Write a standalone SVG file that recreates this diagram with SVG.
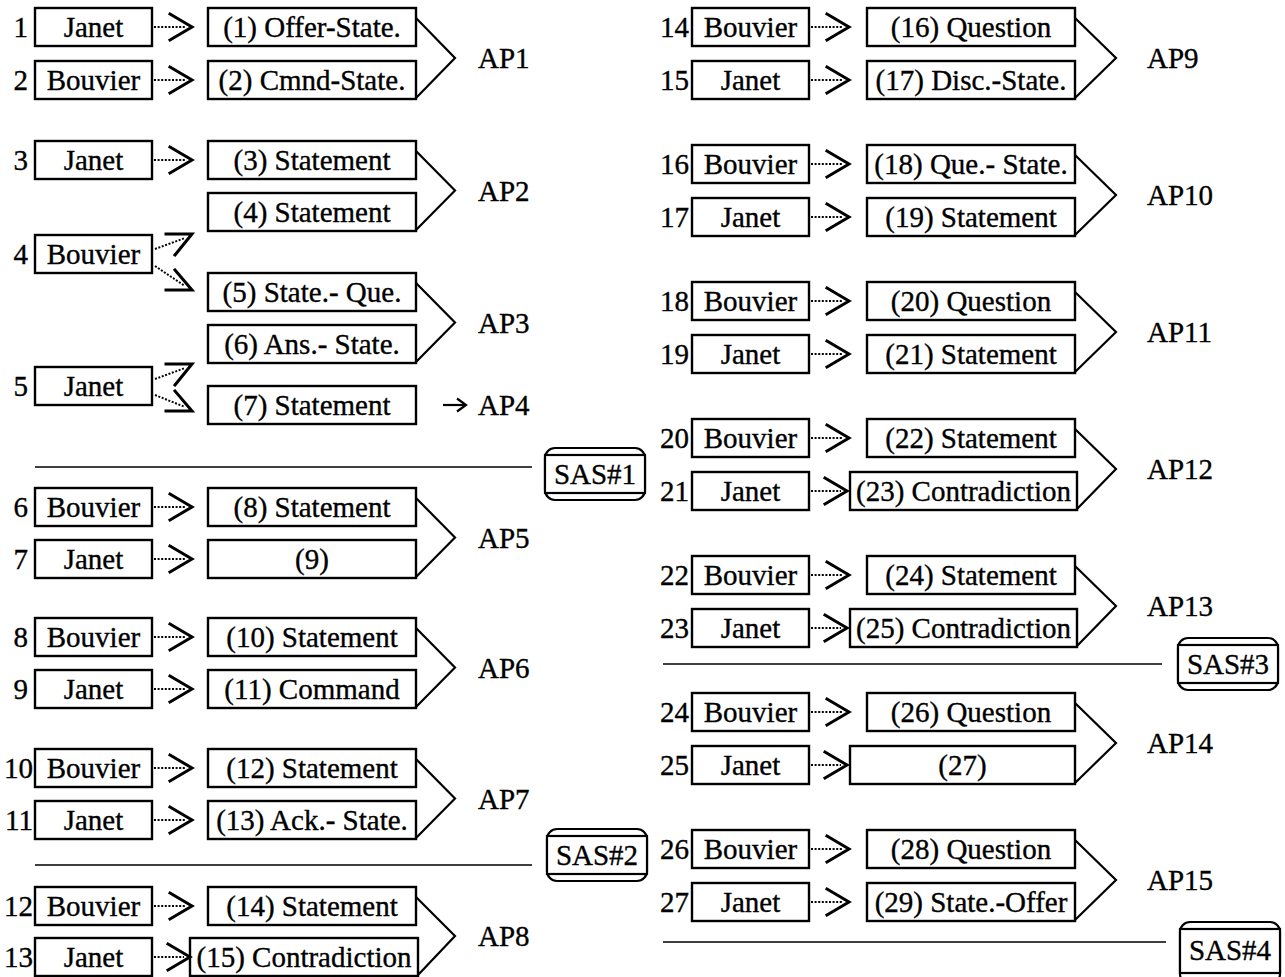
<svg xmlns="http://www.w3.org/2000/svg" width="1285" height="977" viewBox="0 0 1285 977">
<style>
.b{fill:#fff;stroke:#000;stroke-width:2.4}
.t{font-family:"Liberation Serif","Times New Roman",serif;font-size:29px;fill:#000;stroke:#000;stroke-width:0.35}
.m{text-anchor:middle}
.e{text-anchor:end}
.d{stroke:#000;stroke-width:2;stroke-dasharray:2 1.6;fill:none}
.h{stroke:#000;stroke-width:3;fill:none;stroke-linejoin:miter;stroke-linecap:square}
.br{stroke:#000;stroke-width:2.2;fill:none}
.sep{stroke:#000;stroke-width:1.6}
.sas{fill:#fff;stroke:#000;stroke-width:2.2}
</style>
<rect width="1285" height="977" fill="#fff"/>

<!-- LEFT COLUMN speakers -->
<g id="u1"><text class="t e" x="28" y="37">1</text><rect class="b" x="35" y="8" width="117" height="38"/><text class="t m" x="93.5" y="37">Janet</text></g>
<g id="u2"><text class="t e" x="28" y="90">2</text><rect class="b" x="35" y="61" width="117" height="38"/><text class="t m" x="93.5" y="90">Bouvier</text></g>
<g id="u3"><text class="t e" x="28" y="170">3</text><rect class="b" x="35" y="141" width="117" height="38"/><text class="t m" x="93.5" y="170">Janet</text></g>
<g id="u4"><text class="t e" x="28" y="264">4</text><rect class="b" x="35" y="235" width="117" height="38"/><text class="t m" x="93.5" y="264">Bouvier</text></g>
<g id="u5"><text class="t e" x="28" y="396">5</text><rect class="b" x="35" y="367" width="117" height="38"/><text class="t m" x="93.5" y="396">Janet</text></g>
<g id="u6"><text class="t e" x="28" y="517">6</text><rect class="b" x="35" y="488" width="117" height="38"/><text class="t m" x="93.5" y="517">Bouvier</text></g>
<g id="u7"><text class="t e" x="28" y="569">7</text><rect class="b" x="35" y="540" width="117" height="38"/><text class="t m" x="93.5" y="569">Janet</text></g>
<g id="u8"><text class="t e" x="28" y="647">8</text><rect class="b" x="35" y="618" width="117" height="38"/><text class="t m" x="93.5" y="647">Bouvier</text></g>
<g id="u9"><text class="t e" x="28" y="699">9</text><rect class="b" x="35" y="670" width="117" height="38"/><text class="t m" x="93.5" y="699">Janet</text></g>
<g id="u10"><text class="t e" x="33" y="778">10</text><rect class="b" x="35" y="749" width="117" height="38"/><text class="t m" x="93.5" y="778">Bouvier</text></g>
<g id="u11"><text class="t e" x="33" y="830">11</text><rect class="b" x="35" y="801" width="117" height="38"/><text class="t m" x="93.5" y="830">Janet</text></g>
<g id="u12"><text class="t e" x="33" y="916">12</text><rect class="b" x="35" y="887" width="117" height="38"/><text class="t m" x="93.5" y="916">Bouvier</text></g>
<g id="u13"><text class="t e" x="33" y="967">13</text><rect class="b" x="35" y="938" width="117" height="38"/><text class="t m" x="93.5" y="967">Janet</text></g>

<!-- LEFT statements -->
<g id="s1"><rect class="b" x="208" y="8" width="208" height="38"/><text class="t m" x="312" y="37">(1) Offer-State.</text></g>
<g id="s2"><rect class="b" x="208" y="61" width="208" height="38"/><text class="t m" x="312" y="90">(2) Cmnd-State.</text></g>
<g id="s3"><rect class="b" x="208" y="141" width="208" height="38"/><text class="t m" x="312" y="170">(3) Statement</text></g>
<g id="s4"><rect class="b" x="208" y="193" width="208" height="38"/><text class="t m" x="312" y="222">(4) Statement</text></g>
<g id="s5"><rect class="b" x="208" y="273" width="208" height="38"/><text class="t m" x="312" y="302">(5) State.- Que.</text></g>
<g id="s6"><rect class="b" x="208" y="325" width="208" height="38"/><text class="t m" x="312" y="354">(6) Ans.- State.</text></g>
<g id="s7"><rect class="b" x="208" y="386" width="208" height="38"/><text class="t m" x="312" y="415">(7) Statement</text></g>
<g id="s8"><rect class="b" x="208" y="488" width="208" height="38"/><text class="t m" x="312" y="517">(8) Statement</text></g>
<g id="s9"><rect class="b" x="208" y="540" width="208" height="38"/><text class="t m" x="312" y="569">(9)</text></g>
<g id="s10"><rect class="b" x="208" y="618" width="208" height="38"/><text class="t m" x="312" y="647">(10) Statement</text></g>
<g id="s11"><rect class="b" x="208" y="670" width="208" height="38"/><text class="t m" x="312" y="699">(11) Command</text></g>
<g id="s12"><rect class="b" x="208" y="749" width="208" height="38"/><text class="t m" x="312" y="778">(12) Statement</text></g>
<g id="s13"><rect class="b" x="208" y="801" width="208" height="38"/><text class="t m" x="312" y="830">(13) Ack.- State.</text></g>
<g id="s14"><rect class="b" x="208" y="887" width="208" height="38"/><text class="t m" x="312" y="916">(14) Statement</text></g>
<g id="s15"><rect class="b" x="190" y="938" width="228" height="38"/><text class="t m" x="304" y="967">(15) Contradiction</text></g>

<!-- LEFT AP labels -->
<g id="ap1"><text class="t" x="478" y="68">AP1</text></g>
<g id="ap2"><text class="t" x="478" y="201">AP2</text></g>
<g id="ap3"><text class="t" x="478" y="333">AP3</text></g>
<g id="ap4"><text class="t" x="478" y="415">AP4</text></g>
<g id="ap5"><text class="t" x="478" y="548">AP5</text></g>
<g id="ap6"><text class="t" x="478" y="678">AP6</text></g>
<g id="ap7"><text class="t" x="478" y="809">AP7</text></g>
<g id="ap8"><text class="t" x="478" y="946">AP8</text></g>

<!-- SAS left -->
<g id="sas1"><rect class="sas" x="545" y="448" width="100" height="52" rx="10"/><rect class="sas" x="545" y="455" width="100" height="38"/><text class="t m" x="595" y="484">SAS#1</text></g>
<g id="sas2"><rect class="sas" x="547" y="829" width="100" height="52" rx="10"/><rect class="sas" x="547" y="836" width="100" height="38"/><text class="t m" x="597" y="865">SAS#2</text></g>

<!-- RIGHT COLUMN speakers -->
<g id="u14"><text class="t e" x="689" y="37">14</text><rect class="b" x="692" y="8" width="117" height="38"/><text class="t m" x="750.5" y="37">Bouvier</text></g>
<g id="u15"><text class="t e" x="689" y="90">15</text><rect class="b" x="692" y="61" width="117" height="38"/><text class="t m" x="750.5" y="90">Janet</text></g>
<g id="u16"><text class="t e" x="689" y="174">16</text><rect class="b" x="692" y="145" width="117" height="38"/><text class="t m" x="750.5" y="174">Bouvier</text></g>
<g id="u17"><text class="t e" x="689" y="227">17</text><rect class="b" x="692" y="198" width="117" height="38"/><text class="t m" x="750.5" y="227">Janet</text></g>
<g id="u18"><text class="t e" x="689" y="311">18</text><rect class="b" x="692" y="282" width="117" height="38"/><text class="t m" x="750.5" y="311">Bouvier</text></g>
<g id="u19"><text class="t e" x="689" y="364">19</text><rect class="b" x="692" y="335" width="117" height="38"/><text class="t m" x="750.5" y="364">Janet</text></g>
<g id="u20"><text class="t e" x="689" y="448">20</text><rect class="b" x="692" y="419" width="117" height="38"/><text class="t m" x="750.5" y="448">Bouvier</text></g>
<g id="u21"><text class="t e" x="689" y="501">21</text><rect class="b" x="692" y="472" width="117" height="38"/><text class="t m" x="750.5" y="501">Janet</text></g>
<g id="u22"><text class="t e" x="689" y="585">22</text><rect class="b" x="692" y="556" width="117" height="38"/><text class="t m" x="750.5" y="585">Bouvier</text></g>
<g id="u23"><text class="t e" x="689" y="638">23</text><rect class="b" x="692" y="609" width="117" height="38"/><text class="t m" x="750.5" y="638">Janet</text></g>
<g id="u24"><text class="t e" x="689" y="722">24</text><rect class="b" x="692" y="693" width="117" height="38"/><text class="t m" x="750.5" y="722">Bouvier</text></g>
<g id="u25"><text class="t e" x="689" y="775">25</text><rect class="b" x="692" y="746" width="117" height="38"/><text class="t m" x="750.5" y="775">Janet</text></g>
<g id="u26"><text class="t e" x="689" y="859">26</text><rect class="b" x="692" y="830" width="117" height="38"/><text class="t m" x="750.5" y="859">Bouvier</text></g>
<g id="u27"><text class="t e" x="689" y="912">27</text><rect class="b" x="692" y="883" width="117" height="38"/><text class="t m" x="750.5" y="912">Janet</text></g>

<!-- RIGHT statements -->
<g id="s16"><rect class="b" x="867" y="8" width="208" height="38"/><text class="t m" x="971" y="37">(16) Question</text></g>
<g id="s17"><rect class="b" x="867" y="61" width="208" height="38"/><text class="t m" x="971" y="90">(17) Disc.-State.</text></g>
<g id="s18"><rect class="b" x="867" y="145" width="208" height="38"/><text class="t m" x="971" y="174">(18) Que.- State.</text></g>
<g id="s19"><rect class="b" x="867" y="198" width="208" height="38"/><text class="t m" x="971" y="227">(19) Statement</text></g>
<g id="s20"><rect class="b" x="867" y="282" width="208" height="38"/><text class="t m" x="971" y="311">(20) Question</text></g>
<g id="s21"><rect class="b" x="867" y="335" width="208" height="38"/><text class="t m" x="971" y="364">(21) Statement</text></g>
<g id="s22"><rect class="b" x="867" y="419" width="208" height="38"/><text class="t m" x="971" y="448">(22) Statement</text></g>
<g id="s23"><rect class="b" x="850" y="472" width="227" height="38"/><text class="t m" x="963.5" y="501">(23) Contradiction</text></g>
<g id="s24"><rect class="b" x="867" y="556" width="208" height="38"/><text class="t m" x="971" y="585">(24) Statement</text></g>
<g id="s25"><rect class="b" x="850" y="609" width="227" height="38"/><text class="t m" x="963.5" y="638">(25) Contradiction</text></g>
<g id="s26"><rect class="b" x="867" y="693" width="208" height="38"/><text class="t m" x="971" y="722">(26) Question</text></g>
<g id="s27"><rect class="b" x="850" y="746" width="225" height="38"/><text class="t m" x="962.5" y="775">(27)</text></g>
<g id="s28"><rect class="b" x="867" y="830" width="208" height="38"/><text class="t m" x="971" y="859">(28) Question</text></g>
<g id="s29"><rect class="b" x="867" y="883" width="208" height="38"/><text class="t m" x="971" y="912">(29) State.-Offer</text></g>

<!-- RIGHT AP labels -->
<g id="ap9"><text class="t" x="1147" y="68">AP9</text></g>
<g id="ap10"><text class="t" x="1147" y="205">AP10</text></g>
<g id="ap11"><text class="t" x="1147" y="342">AP11</text></g>
<g id="ap12"><text class="t" x="1147" y="479">AP12</text></g>
<g id="ap13"><text class="t" x="1147" y="616">AP13</text></g>
<g id="ap14"><text class="t" x="1147" y="753">AP14</text></g>
<g id="ap15"><text class="t" x="1147" y="890">AP15</text></g>

<!-- SAS right -->
<g id="sas3"><rect class="sas" x="1178" y="638" width="100" height="52" rx="10"/><rect class="sas" x="1178" y="645" width="100" height="38"/><text class="t m" x="1228" y="674">SAS#3</text></g>
<g id="sas4"><rect class="sas" x="1180" y="922" width="100" height="62" rx="10"/><rect class="sas" x="1180" y="929" width="100" height="44"/><text class="t m" x="1230" y="960">SAS#4</text></g>

<!-- CONNECTORS -->
<g id="connectors">
<g>
<path class="d" d="M154 27H186M154 80H186M154 160H186M154 507H186M154 559H186M154 637H186M154 689H186M154 768H186M154 820H186M154 906H186M154 957H184"/>
<path class="h" d="M170 14L192 27L170 40M170 67L192 80L170 93M170 147L192 160L170 173M170 494L192 507L170 520M170 546L192 559L170 572M170 624L192 637L170 650M170 676L192 689L170 702M170 755L192 768L170 781M170 807L192 820L170 833M170 893L192 906L170 919M168 944L190 957L168 970"/>
</g>
<g>
<path class="d" d="M155 249L185 238M155 266L185 286M155 379L185 368M155 395L185 407"/>
<path class="h" d="M166 234H192L175 255M166 290H192L175 270M166 364H192L175 385M166 411H192L175 391"/>
</g>
<g>
<path class="d" d="M811 27H843M811 80H843M811 164H843M811 217H843M811 301H843M811 354H843M811 438H843M811 491H841M811 575H843M811 628H841M811 712H843M811 765H841M811 849H843M811 902H843"/>
<path class="h" d="M827 14L849 27L827 40M827 67L849 80L827 93M827 151L849 164L827 177M827 204L849 217L827 230M827 288L849 301L827 314M827 341L849 354L827 367M827 425L849 438L827 451M825 478L847 491L825 504M827 562L849 575L827 588M825 615L847 628L825 641M827 699L849 712L827 725M825 752L847 765L825 778M827 836L849 849L827 862M827 889L849 902L827 915"/>
</g>
<path class="br" d="M416 18L455 58L416 98M416 151L455 190.5L416 230M416 283L455 322.5L416 362M416 498L455 537.5L416 577M416 628L455 667.5L416 707M416 759L455 798.5L416 838M416 897L455 936L418 975"/>
<path class="br" d="M1075 18L1116 58L1075 98M1075 155L1116 195L1075 235M1075 292L1116 332L1075 372M1075 429L1116 469L1077 509M1075 566L1116 606L1077 646M1075 703L1116 743L1075 783M1075 840L1116 880L1075 920"/>
<path class="br" d="M443 405H465"/>
<path class="br" d="M457 398.5L466 405L457 411.5"/>
<path class="sep" d="M35 467H532M35 865H532M663 664H1162M663 942H1166"/>
</g>
</svg>
